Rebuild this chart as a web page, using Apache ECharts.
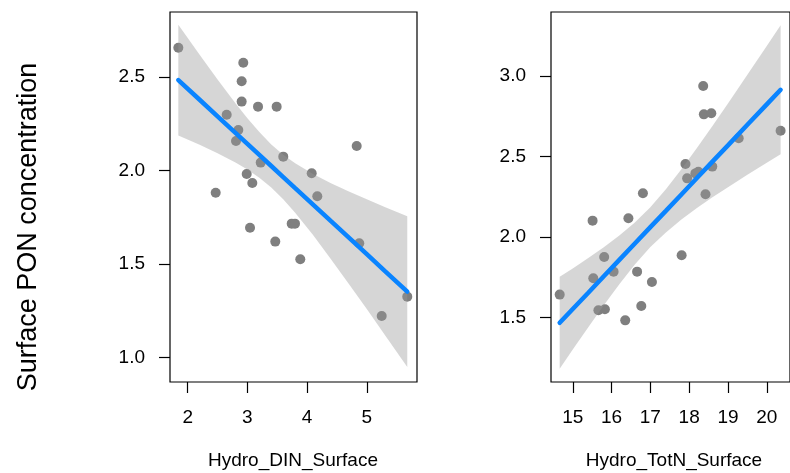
<!DOCTYPE html>
<html>
<head>
<meta charset="utf-8">
<script src="https://cdn.jsdelivr.net/npm/echarts@6/dist/echarts.min.js"></script>
<style>
html,body{margin:0;padding:0;background:#fff;}
#chart{width:790px;height:473px;}
</style>
</head>
<body>
<div id="chart"></div>
<script>
// ---- Data ----
const dinX = [1.843,2.931,2.904,2.904,3.178,3.490,2.653,2.848,2.809,4.831,3.601,3.223,4.077,2.988,3.082,2.469,4.171,3.044,3.742,3.797,3.467,3.886,4.874,5.678,5.250];
const dinY = [2.656,2.576,2.477,2.368,2.341,2.341,2.298,2.216,2.158,2.131,2.074,2.042,1.985,1.981,1.933,1.881,1.862,1.694,1.716,1.716,1.620,1.526,1.611,1.326,1.223];

const totnX = [18.362,18.379,18.571,20.357,19.277,17.905,18.237,18.160,18.596,17.948,16.808,18.421,15.511,16.434,15.810,17.806,16.052,16.658,15.529,17.040,14.663,15.661,15.828,16.766,16.352];
const totnY = [2.938,2.762,2.769,2.660,2.613,2.453,2.405,2.395,2.437,2.364,2.271,2.265,2.101,2.116,1.875,1.886,1.784,1.784,1.743,1.720,1.641,1.544,1.550,1.570,1.481];

// fitted line and confidence band
const dinBandX   = [1.843,2.2,2.5,2.8,3.0,3.2,3.4,3.6,3.8,4.1,4.4,4.7,5.0,5.3,5.678];
const dinFit     = [2.483,2.378,2.289,2.201,2.142,2.083,2.024,1.965,1.906,1.818,1.729,1.641,1.553,1.464,1.353];
const dinUpper   = [2.779,2.618,2.486,2.359,2.279,2.205,2.139,2.084,2.038,1.981,1.932,1.888,1.846,1.805,1.756];
const dinLower   = [2.187,2.138,2.092,2.043,2.005,1.961,1.909,1.846,1.774,1.655,1.526,1.394,1.260,1.123,0.950];

const totnBandX  = [14.663,15.0,15.4,15.8,16.2,16.6,17.0,17.4,17.8,18.2,18.6,19.0,19.5,20.0,20.357];
const totnFit    = [1.466,1.552,1.653,1.755,1.857,1.959,2.061,2.162,2.264,2.366,2.468,2.569,2.697,2.824,2.915];
const totnUpper  = [1.752,1.804,1.868,1.935,2.008,2.090,2.185,2.296,2.420,2.553,2.690,2.830,3.008,3.187,3.316];
const totnLower  = [1.180,1.300,1.438,1.575,1.706,1.828,1.937,2.028,2.108,2.179,2.246,2.308,2.386,2.461,2.514];

const dinTicks  = [2,3,4,5];
const totnTicks = [15,16,17,18,19,20];
const dinYTicks  = [1.0,1.5,2.0,2.5];
const totnYTicks = [1.5,2.0,2.5,3.0];

const xTitles = ['Hydro_DIN_Surface','Hydro_TotN_Surface'];
const yTitle = 'Surface PON concentration';

// ---- Chart ----
const FONT = 'Liberation Sans, Arial, sans-serif';
const chart = echarts.init(document.getElementById('chart'), null, {renderer:'canvas'});

function zip(a,b){ return a.map((v,i)=>[v,b[i]]); }

function bandSeries(idx, xs, lo, hi){
  return {
    type:'custom', xAxisIndex:idx, yAxisIndex:idx, clip:true, silent:true,
    data:[[xs[0], lo[0]]],
    renderItem:function(params, api){
      const pts = [];
      for (let i=0;i<xs.length;i++) pts.push(api.coord([xs[i], hi[i]]));
      for (let i=xs.length-1;i>=0;i--) pts.push(api.coord([xs[i], lo[i]]));
      return {type:'polygon', shape:{points:pts}, style:{fill:'rgba(153,153,153,0.4)', stroke:null}};
    },
    z:3
  };
}

function xAxis(idx, min, max, ticks){
  return {
    type:'value', gridIndex:idx, min:min, max:max,
    axisLine:{show:false},
    axisTick:{show:true, length:11, inside:false, customValues:ticks, lineStyle:{color:'#000', width:1.2}},
    axisLabel:{show:true, customValues:ticks, margin:26, color:'#000', fontSize:19, fontFamily:FONT,
      formatter:v=>String(Math.round(v))},
    splitLine:{show:false}
  };
}
function yAxis(idx, min, max, ticks){
  return {
    type:'value', gridIndex:idx, min:min, max:max,
    axisLine:{show:false},
    axisTick:{show:true, length:11, customValues:ticks, lineStyle:{color:'#000', width:1.2}},
    axisLabel:{show:true, customValues:ticks, margin:25, color:'#000', fontSize:19, fontFamily:FONT,
      formatter:v=>v.toFixed(1)},
    splitLine:{show:false}
  };
}

const option = {
  backgroundColor:'#fff',
  animation:false,
  grid:[
    {left:170, top:12, width:247, height:370, show:true, borderColor:'#000', borderWidth:1.2, backgroundColor:'transparent'},
    {left:551, top:12, width:247, height:370, show:true, borderColor:'#000', borderWidth:1.2, backgroundColor:'transparent'}
  ],
  xAxis:[ xAxis(0, 1.7035, 5.841, dinTicks), xAxis(1, 14.439, 20.599, totnTicks) ],
  yAxis:[ yAxis(0, 0.870, 2.8467, dinYTicks), yAxis(1, 1.0976, 3.3986, totnYTicks) ],
  graphic:[
    {type:'text', x:29, y:227, rotation:Math.PI/2,
      style:{text:yTitle, fontSize:27, fontFamily:FONT, fill:'#000', align:'center', verticalAlign:'middle'}},
    {type:'text', x:293, y:461,
      style:{text:xTitles[0], fontSize:19, fontFamily:FONT, fill:'#000', align:'center', verticalAlign:'middle'}},
    {type:'text', x:674, y:461,
      style:{text:xTitles[1], fontSize:19, fontFamily:FONT, fill:'#000', align:'center', verticalAlign:'middle'}}
  ],
  series:[
    {type:'scatter', xAxisIndex:0, yAxisIndex:0, data:zip(dinX,dinY), symbol:'circle', symbolSize:10,
      itemStyle:{color:'#7f7f7f', opacity:1}, z:2, silent:true},
    {type:'scatter', xAxisIndex:1, yAxisIndex:1, data:zip(totnX,totnY), symbol:'circle', symbolSize:10,
      itemStyle:{color:'#7f7f7f', opacity:1}, z:2, silent:true},
    bandSeries(0, dinBandX, dinLower, dinUpper),
    bandSeries(1, totnBandX, totnLower, totnUpper),
    {type:'line', xAxisIndex:0, yAxisIndex:0, data:zip(dinBandX,dinFit), showSymbol:false, symbol:'none',
      lineStyle:{color:'#0A84FF', width:4.5, cap:'round'}, z:4, silent:true},
    {type:'line', xAxisIndex:1, yAxisIndex:1, data:zip(totnBandX,totnFit), showSymbol:false, symbol:'none',
      lineStyle:{color:'#0A84FF', width:4.5, cap:'round'}, z:4, silent:true}
  ]
};
chart.setOption(option);
</script>
</body>
</html>
